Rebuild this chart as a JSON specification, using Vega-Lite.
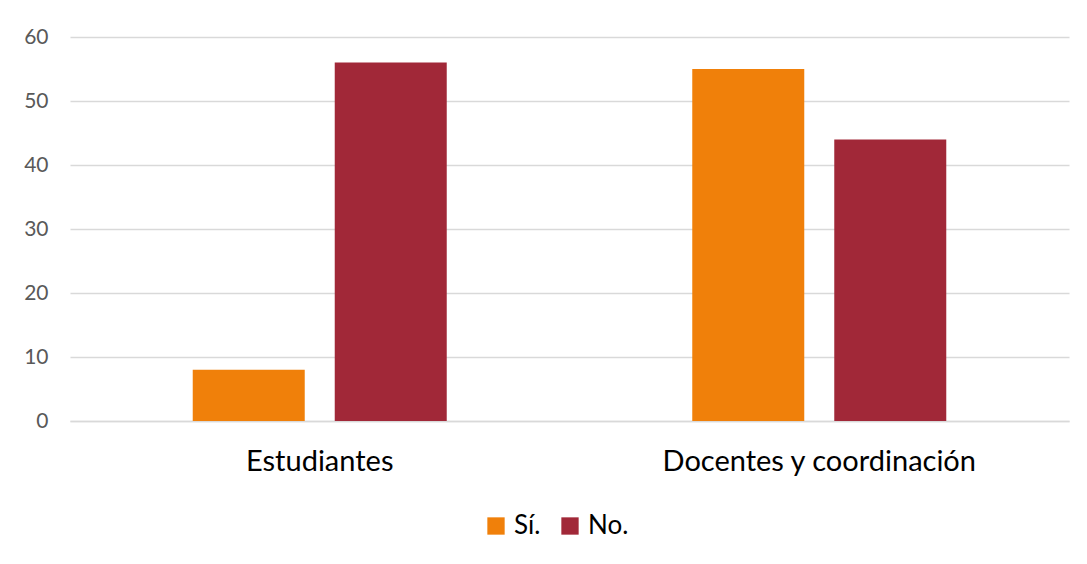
{
  "$schema": "https://vega.github.io/schema/vega-lite/v6.json",
  "width": 999,
  "height": 384,
  "autosize": {"type": "none"},
  "padding": {"left": 70, "top": 37, "right": 18, "bottom": 143},
  "background": "white",
  "data": {
    "values": [
      {"grupo": "Estudiantes", "respuesta": "Sí.", "valor": 8},
      {"grupo": "Estudiantes", "respuesta": "No.", "valor": 56},
      {"grupo": "Docentes y coordinación", "respuesta": "Sí.", "valor": 55},
      {"grupo": "Docentes y coordinación", "respuesta": "No.", "valor": 44}
    ]
  },
  "mark": {"type": "bar"},
  "encoding": {
    "x": {
      "field": "grupo",
      "type": "nominal",
      "sort": ["Estudiantes", "Docentes y coordinación"],
      "scale": {"paddingInner": 0.4915, "paddingOuter": 0.2457},
      "axis": {
        "title": null,
        "labelAngle": 0,
        "labelFont": "Lato",
        "labelFontSize": 29,
        "labelColor": "#000000",
        "labelPadding": 26,
        "labelLimit": 0,
        "ticks": false,
        "domainColor": "#d9d9d9",
        "domainWidth": 1.5
      }
    },
    "xOffset": {
      "field": "respuesta",
      "type": "nominal",
      "sort": ["Sí.", "No."],
      "scale": {"paddingInner": 0.2113, "paddingOuter": 0}
    },
    "y": {
      "field": "valor",
      "type": "quantitative",
      "scale": {"domain": [0, 60]},
      "axis": {
        "title": null,
        "values": [0, 10, 20, 30, 40, 50, 60],
        "labelFont": "Lato",
        "labelFontSize": 21,
        "labelColor": "#595959",
        "labelPadding": 22,
        "ticks": false,
        "domain": false,
        "gridColor": "#d9d9d9",
        "gridWidth": 1.5
      }
    },
    "color": {
      "field": "respuesta",
      "type": "nominal",
      "sort": ["Sí.", "No."],
      "scale": {"domain": ["Sí.", "No."], "range": ["#F0800A", "#A12838"]},
      "legend": {
        "title": null,
        "orient": "none",
        "direction": "horizontal",
        "legendX": 413,
        "legendY": 476,
        "symbolType": "square",
        "symbolSize": 300,
        "symbolStrokeWidth": 0,
        "labelFont": "Lato",
        "labelFontSize": 26,
        "labelColor": "#000000",
        "columnPadding": 16,
        "labelOffset": 5
      }
    }
  },
  "config": {"view": {"stroke": null}}
}
